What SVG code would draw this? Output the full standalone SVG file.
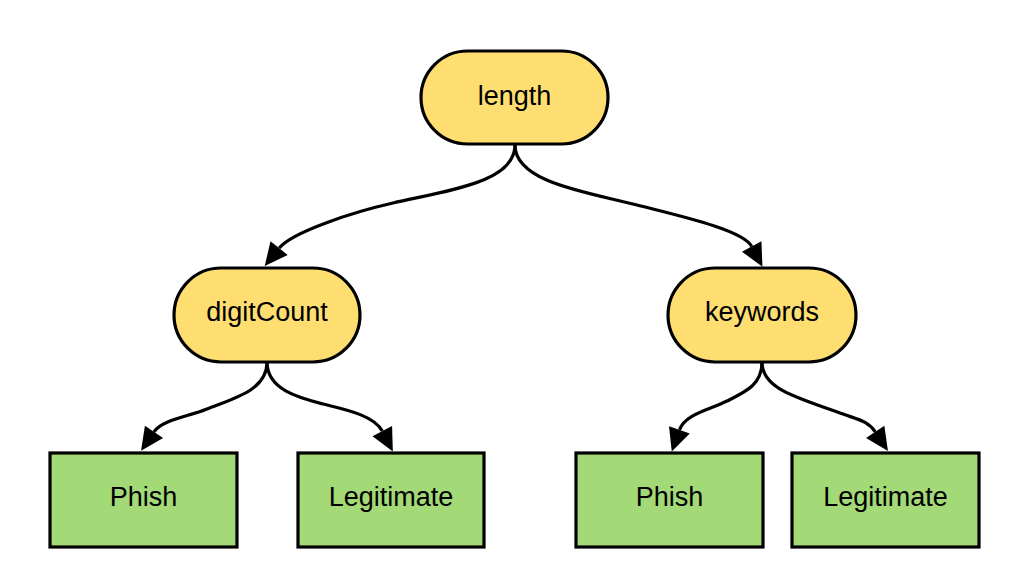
<svg xmlns="http://www.w3.org/2000/svg" width="1024" height="577" viewBox="0 0 1024 577">
<style>
.dec{fill:#FFDE71;stroke:#000;stroke-width:3.2}
.leaf{fill:#A3D977;stroke:#000;stroke-width:3.2}
.lbl{font-family:"Liberation Sans",Arial,sans-serif;font-size:27px;fill:#000;text-anchor:middle}
.edge{fill:none;stroke:#000;stroke-width:3.2;marker-end:url(#arr)}
</style>
<defs>
<marker id="arr" markerUnits="userSpaceOnUse" markerWidth="28" markerHeight="26" viewBox="-2 -13 28 26" refX="0" refY="0" orient="auto">
<path d="M0,-11 L23,0 L0,11 z" fill="#000"/>
</marker>
</defs>
<rect width="1024" height="577" fill="#fff"/>
<g id="connectors">
<path class="edge" d="M515,145 C515,182 450,190 393,203 C353,212 292,232 279.1,248.1"/>
<path class="edge" d="M515,145 C515,182 585,192 637,205 C680,216 743,230 751.7,246.5"/>
<path class="edge" d="M267,362 C267,390 235,398 207,409 C187,417 162,420 154,431.8"/>
<path class="edge" d="M267,362 C267,390 300,398 323,404 C343,409 374,415 382.3,431.1"/>
<path class="edge" d="M762,362 C762,385 745,392 727,401 C709,410 685,414 679.4,429.9"/>
<path class="edge" d="M762,362 C762,390 800,398 843,414 C858,419.6 868,421 875.2,431.8"/>
</g>
<g id="node-length">
<rect class="dec" x="421" y="51" width="187" height="93" rx="46.5"/>
<text class="lbl" x="514.5" y="105">length</text>
</g>
<g id="node-digitCount">
<rect class="dec" x="174" y="268" width="186" height="94" rx="47"/>
<text class="lbl" x="267" y="321">digitCount</text>
</g>
<g id="node-keywords">
<rect class="dec" x="668" y="268" width="188" height="94" rx="47"/>
<text class="lbl" x="762" y="321">keywords</text>
</g>
<g id="leaf-phish-1">
<rect class="leaf" x="50" y="453" width="187" height="94"/>
<text class="lbl" x="143.5" y="506">Phish</text>
</g>
<g id="leaf-legit-1">
<rect class="leaf" x="298" y="453" width="186" height="94"/>
<text class="lbl" x="391" y="506">Legitimate</text>
</g>
<g id="leaf-phish-2">
<rect class="leaf" x="576" y="453" width="187" height="94"/>
<text class="lbl" x="669.5" y="506">Phish</text>
</g>
<g id="leaf-legit-2">
<rect class="leaf" x="792" y="453" width="187" height="94"/>
<text class="lbl" x="885.5" y="506">Legitimate</text>
</g>
</svg>
